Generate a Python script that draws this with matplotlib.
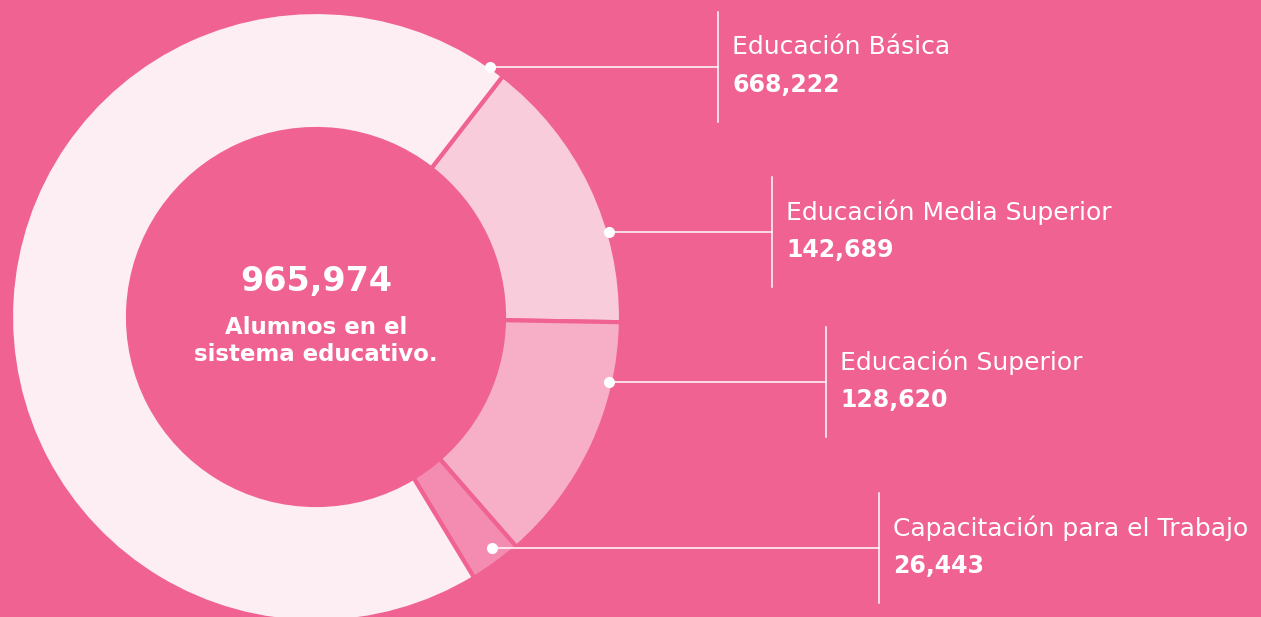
import numpy as np
import matplotlib.pyplot as plt

# datos
niveles = ['Educación Media Superior', 'Educación Superior',
           'Capacitación para el Trabajo', 'Educación Básica']
alumnos = [142689, 128620, 26443, 668222]
colores = ['#F9CCDC', '#F7AFC7', '#F48BB0', '#FDEEF3']
total = 965974
texto_centro = 'Alumnos en el\nsistema educativo.'

fondo = '#F06292'
plt.rcParams['font.family'] = ['DejaVu Sans']

fig = plt.figure(figsize=(12.61, 6.17), dpi=100, facecolor=fondo)
ax = fig.add_axes([0, 0, 1, 1])
ax.set_facecolor(fondo)

cx, cy, r, r_in = 316, 617 - 317, 305, 188
ax.pie(alumnos, colors=colores, startangle=52.2, counterclock=False,
       center=(cx, cy), radius=r,
       wedgeprops=dict(width=r - r_in, edgecolor=fondo, linewidth=3))
ax.set_xlim(0, 1261)
ax.set_ylim(0, 617)
ax.set_aspect('equal')
ax.axis('off')

ax.text(cx, 617 - 282, f'{total:,}', ha='center', va='center', color='white',
        fontsize=24, fontweight='bold')
ax.text(cx, 617 - 341, texto_centro, ha='center', va='center', color='white',
        fontsize=16.5, fontweight='bold', linespacing=1.2)

# anotaciones: angulo del punto, radio, x de la barra vertical, y del texto
anot = {
    'Educación Básica': (55.2, 305, 718, 67),
    'Educación Media Superior': (16.2, 305, 772, 232),
    'Educación Superior': (-12.5, 300, 826, 382),
    'Capacitación para el Trabajo': (-52.7, 290, 879, 548),
}
for nombre, valor in zip(niveles, alumnos):
    ang, rr, xv, yl = anot[nombre]
    px = cx + rr * np.cos(np.radians(ang))
    py = cy + rr * np.sin(np.radians(ang))
    yl = 617 - yl
    ax.plot([px, xv], [yl, yl], color='white', lw=1.1)
    ax.plot(px, py, 'o', color='white', ms=7)
    ax.plot([xv, xv], [yl - 55, yl + 55], color='white', lw=1.1)
    ax.text(xv + 14, yl + 20, nombre, ha='left', va='center', color='white',
            fontsize=18, fontweight='normal')
    ax.text(xv + 14, yl - 18, f'{valor:,}', ha='left', va='center', color='white',
            fontsize=17, fontweight='bold')

plt.savefig('out.png', dpi=100, facecolor=fondo)
